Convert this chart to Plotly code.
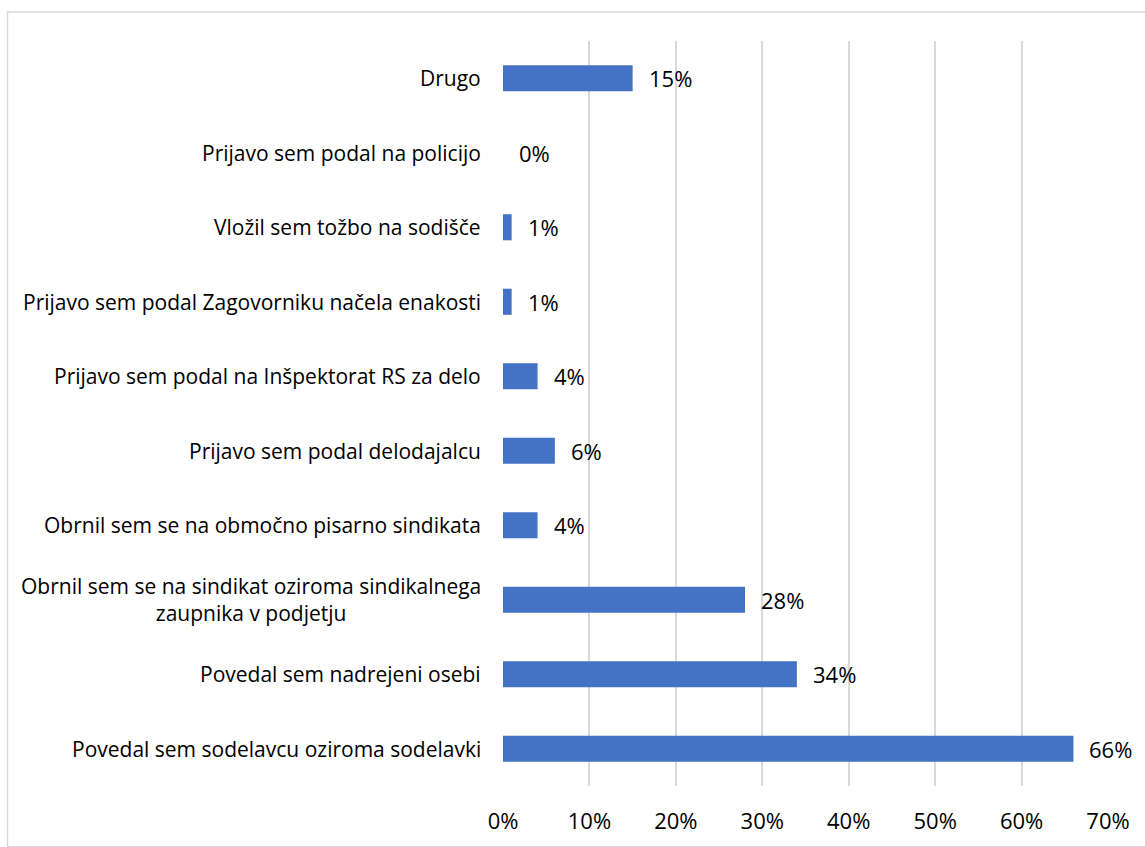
import plotly.graph_objects as go

categories = [
    "Povedal sem sodelavcu oziroma sodelavki",
    "Povedal sem nadrejeni osebi",
    "Obrnil sem se na sindikat oziroma sindikalnega<br>zaupnika v podjetju",
    "Obrnil sem se na območno pisarno sindikata",
    "Prijavo sem podal delodajalcu",
    "Prijavo sem podal na Inšpektorat RS za delo",
    "Prijavo sem podal Zagovorniku načela enakosti",
    "Vložil sem tožbo na sodišče",
    "Prijavo sem podal na policijo",
    "Drugo",
]
values = [66, 34, 28, 4, 6, 4, 1, 1, 0, 15]
tick_vals = [0, 10, 20, 30, 40, 50, 60, 70]
tick_text = ["0%", "10%", "20%", "30%", "40%", "50%", "60%", "70%"]

FONT = "Open Sans"
FS_CAT = 21
FS_NUM = 22
BAR = "#4472C4"
GRID = "#D9D9D9"

fig = go.Figure()
fig.add_trace(go.Bar(
    y=list(range(len(categories))),
    x=values,
    orientation="h",
    marker=dict(color=BAR, line=dict(width=0)),
    width=0.35,
    hoverinfo="skip",
))

annotations = []
for i, (c, v) in enumerate(zip(categories, values)):
    annotations.append(dict(
        x=v, y=i, xref="x", yref="y", text=f"{v}%", showarrow=False,
        xanchor="left", yanchor="middle", xshift=14,
        font=dict(family=FONT, size=FS_NUM, color="#000000"),
    ))
    annotations.append(dict(
        x=0, y=i, xref="paper", yref="y", text=c, showarrow=False,
        xanchor="right", yanchor="middle", xshift=-20, align="center",
        font=dict(family=FONT, size=FS_CAT, color="#000000"),
    ))

L, R, T, B = 503, 37, 41, 59
W, H = 1145, 847
pw = W - L - R
ph = H - T - B

fig.update_layout(
    width=W, height=H,
    margin=dict(l=L, r=R, t=T, b=B),
    paper_bgcolor="white", plot_bgcolor="white",
    showlegend=False,
    font=dict(family=FONT, size=FS_CAT, color="#000000"),
    xaxis=dict(
        range=[0, 70], tickvals=tick_vals, ticktext=tick_text,
        showgrid=True, gridcolor=GRID, gridwidth=1.5,
        zeroline=False, showline=False, ticks="",
        ticklabelstandoff=20,
        tickfont=dict(family=FONT, size=FS_NUM, color="#000000"),
        fixedrange=True,
    ),
    yaxis=dict(
        range=[-0.5, 9.5], showticklabels=False, showgrid=False,
        zeroline=False, showline=False, ticks="", fixedrange=True,
    ),
    annotations=annotations,
    shapes=[dict(
        type="rect", xref="paper", yref="paper",
        x0=(7.5 - L) / pw, x1=(W + 2 - L) / pw,
        y0=-(H + 2 - (T + ph)) / ph, y1=1 + (T - 12) / ph,
        line=dict(color=GRID, width=1.5), fillcolor="rgba(0,0,0,0)",
        layer="below",
    )],
)

fig.write_html(
    "out.html",
    config={"displayModeBar": False},
    post_script="document.body.style.margin='0';document.body.style.overflow='hidden';",
)
